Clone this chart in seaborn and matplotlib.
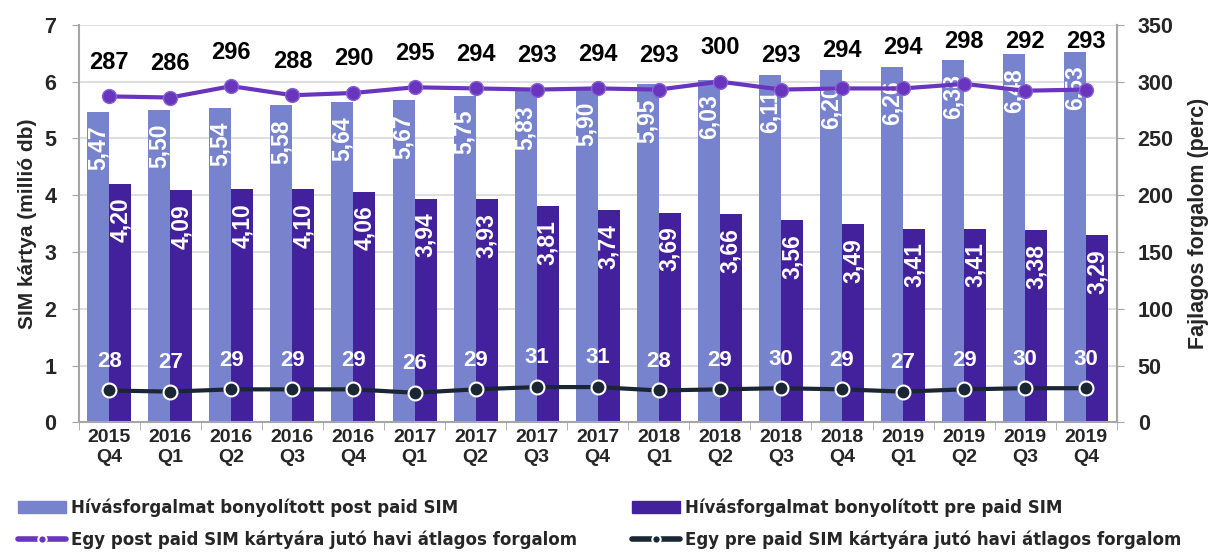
import numpy as np
import pandas as pd
import matplotlib
matplotlib.use("Agg")
import matplotlib.pyplot as plt
import seaborn as sns
from matplotlib.patches import Patch
from matplotlib.lines import Line2D

quarters = ["2015\nQ4", "2016\nQ1", "2016\nQ2", "2016\nQ3", "2016\nQ4", "2017\nQ1", "2017\nQ2",
            "2017\nQ3", "2017\nQ4", "2018\nQ1", "2018\nQ2", "2018\nQ3", "2018\nQ4", "2019\nQ1",
            "2019\nQ2", "2019\nQ3", "2019\nQ4"]
post_sim = [5.47, 5.50, 5.54, 5.58, 5.64, 5.67, 5.75, 5.83, 5.90, 5.95, 6.03, 6.11, 6.20, 6.26, 6.38, 6.48, 6.53]
pre_sim = [4.20, 4.09, 4.10, 4.10, 4.06, 3.94, 3.93, 3.81, 3.74, 3.69, 3.66, 3.56, 3.49, 3.41, 3.41, 3.38, 3.29]
post_min = [287, 286, 296, 288, 290, 295, 294, 293, 294, 293, 300, 293, 294, 294, 298, 292, 293]
pre_min = [28, 27, 29, 29, 29, 26, 29, 31, 31, 28, 29, 30, 29, 27, 29, 30, 30]

lbl_post_bar = "Hívásforgalmat bonyolított post paid SIM"
lbl_pre_bar = "Hívásforgalmat bonyolított pre paid SIM"
lbl_post_line = "Egy post paid SIM kártyára jutó havi átlagos forgalom"
lbl_pre_line = "Egy pre paid SIM kártyára jutó havi átlagos forgalom"

c_post = "#7783CD"
c_pre = "#43209C"
c_post_line = "#6935BE"
c_pre_line = "#1B2634"
grey = "#A6A6A6"

sns.set_style("white")
plt.rcParams["font.family"] = ["Liberation Sans", "DejaVu Sans"]
plt.rcParams["font.weight"] = "bold"

df = pd.DataFrame({
    "q": quarters * 2,
    "val": post_sim + pre_sim,
    "type": [lbl_post_bar] * len(quarters) + [lbl_pre_bar] * len(quarters),
})

fig = plt.figure(figsize=(12.1, 5.52), dpi=100)
ax = fig.add_axes([0.065, 0.235, 0.858, 0.72])
sns.barplot(data=df, x="q", y="val", hue="type", palette=[c_post, c_pre],
            width=0.72, saturation=1, ax=ax, legend=False, linewidth=0, zorder=2)
ax.set_ylim(0, 7)
ax.set_xlim(-0.5, len(quarters) - 0.5)
ax.set_yticks(range(0, 8))
ax.grid(axis="y", color="#D9D9D9", lw=1.2, zorder=0)
ax.set_axisbelow(True)
ax.set_xlabel("")
ax.set_ylabel("SIM kártya (millió db)", fontsize=15, fontweight="bold", labelpad=5)
ax.tick_params(axis="y", labelsize=15.5, length=5, color=grey, direction="out", left=True, pad=11)
ax.tick_params(axis="x", labelsize=14, length=0, pad=5)
ax.set_xticks(np.arange(-0.5, len(quarters)), minor=True)
ax.tick_params(axis="x", which="minor", length=6, color=grey, direction="out", bottom=True)
ax.spines["top"].set_visible(False)
for s in ["left", "bottom", "right"]:
    ax.spines[s].set_color(grey)
    ax.spines[s].set_linewidth(1.5)

# value labels inside the bars
for p_i, bars in enumerate(ax.containers):
    vals = post_sim if p_i == 0 else pre_sim
    off = -10 if p_i == 0 else -10
    for b, v in zip(bars, vals):
        ax.annotate(f"{v:.2f}".replace(".", ","), (b.get_x() + b.get_width() / 2, b.get_height()),
                    xytext=(0, off), textcoords="offset points", rotation=90,
                    ha="center", va="top", color="white", fontsize=16.5, fontweight="bold", zorder=3)

ax2 = ax.twinx()
x = np.arange(len(quarters))
sns.lineplot(x=x, y=post_min, ax=ax2, color=c_post_line, lw=3, marker="o", markersize=10,
             markeredgecolor="#8A63D2", markeredgewidth=1, legend=False)
sns.lineplot(x=x, y=pre_min, ax=ax2, color=c_pre_line, lw=3, marker="o", markersize=10,
             markeredgecolor="white", markeredgewidth=1.5, legend=False)
ax2.set_ylim(0, 350)
ax2.set_yticks(range(0, 351, 50))
ax2.set_ylabel("Fajlagos forgalom (perc)", fontsize=15.5, fontweight="bold", labelpad=10)
ax2.tick_params(axis="y", labelsize=15.5, length=5, color=grey, direction="out", pad=10)
ax2.spines["top"].set_visible(False)
ax2.spines["right"].set_color(grey)
ax2.spines["right"].set_linewidth(1.5)
ax2.spines["left"].set_visible(False)
ax2.spines["bottom"].set_visible(False)
ax2.set_xlim(-0.5, len(quarters) - 0.5)

for i in range(len(quarters)):
    y_lab = min(max(post_min[i] + 30, post_sim[i] * 50 + 17), 335)
    ax2.text(i, y_lab, str(post_min[i]), ha="center", va="center", fontsize=17,
             fontweight="bold", color="black")
    ax2.annotate(str(pre_min[i]), (i, pre_min[i]), xytext=(0, 21), textcoords="offset points",
                 ha="center", va="center", fontsize=16, fontweight="bold", color="white")

leg_font = {"family": "DejaVu Sans", "size": 12, "weight": "bold"}
h_post_line = Line2D([], [], color=c_post_line, lw=4, marker="o", markersize=6,
                     markeredgecolor="white", markeredgewidth=1.5)
h_pre_line = Line2D([], [], color=c_pre_line, lw=4, marker="o", markersize=6,
                    markeredgecolor="white", markeredgewidth=1.5)
for x0, hs, ls in [(18 / 1210, [Patch(color=c_post), h_post_line], [lbl_post_bar, lbl_post_line]),
                   (632 / 1210, [Patch(color=c_pre), h_pre_line], [lbl_pre_bar, lbl_pre_line])]:
    fig.legend(hs, ls, loc="lower left", bbox_to_anchor=(x0, 0.006), frameon=False,
               prop=leg_font, handlelength=2.9, handleheight=0.7, handletextpad=0.3,
               labelspacing=0.8, borderpad=0, borderaxespad=0)

fig.savefig("out.png", dpi=100)
